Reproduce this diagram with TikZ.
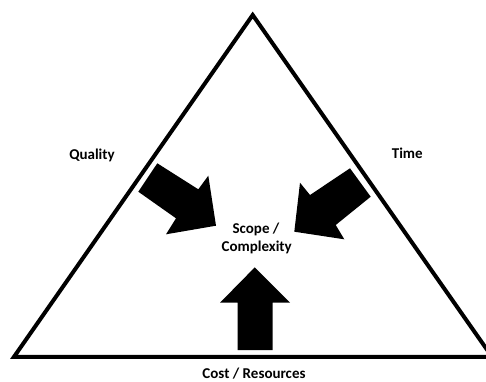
\documentclass[tikz,border=0pt]{standalone}
\usepackage{fontspec}
\setmainfont{Carlito}
\tikzset{
  lbl/.style={font=\fontsize{15}{18}\selectfont\bfseries, inner sep=0pt, anchor=base},
  bigarrow/.style={fill=black, draw=none},
  frame/.style={draw=black, line width=4pt, line join=miter}
}
\begin{document}
\begin{tikzpicture}[x=1pt,y=-1pt]
\useasboundingbox (0,0) rectangle (486,381);
\begin{scope}
\clip (0,0) rectangle (486,381);
% triangle
\coordinate (apex) at (252.7,15);
\coordinate (bl) at (14,356.8);
\coordinate (br) at (492,356.8);
\draw[frame] (apex) -- (bl) -- (br) -- cycle;
\end{scope}
% left arrow (Quality)
\fill[bigarrow] (157.3,163.3) -- (198.3,189.3) -- (208.3,175.7) -- (216,225.7)
  -- (166,234.3) -- (176,218.3) -- (138.3,191.7) -- cycle;
% right arrow (Time)
\fill[bigarrow] (350,168.3) -- (310,195) -- (300,182.7) -- (294.3,231.7)
  -- (344.3,239.3) -- (335.7,225) -- (370.7,196.7) -- cycle;
% bottom arrow (Cost)
\fill[bigarrow] (254.8,267.3) -- (290,302.7) -- (272.7,302.7) -- (272.7,350)
  -- (237.7,350) -- (237.7,302.7) -- (220,302.7) -- cycle;
% labels
\node[lbl] (quality) at (92,159) {Quality};
\node[lbl] (time) at (407.3,158.5) {Time};
\node[lbl] (scope) at (256,233.5) {Scope /};
\node[lbl] (complexity) at (256.7,251.8) {Complexity};
\node[lbl] (cost) at (254,378.3) {Cost / Resources};
\end{tikzpicture}
\end{document}
